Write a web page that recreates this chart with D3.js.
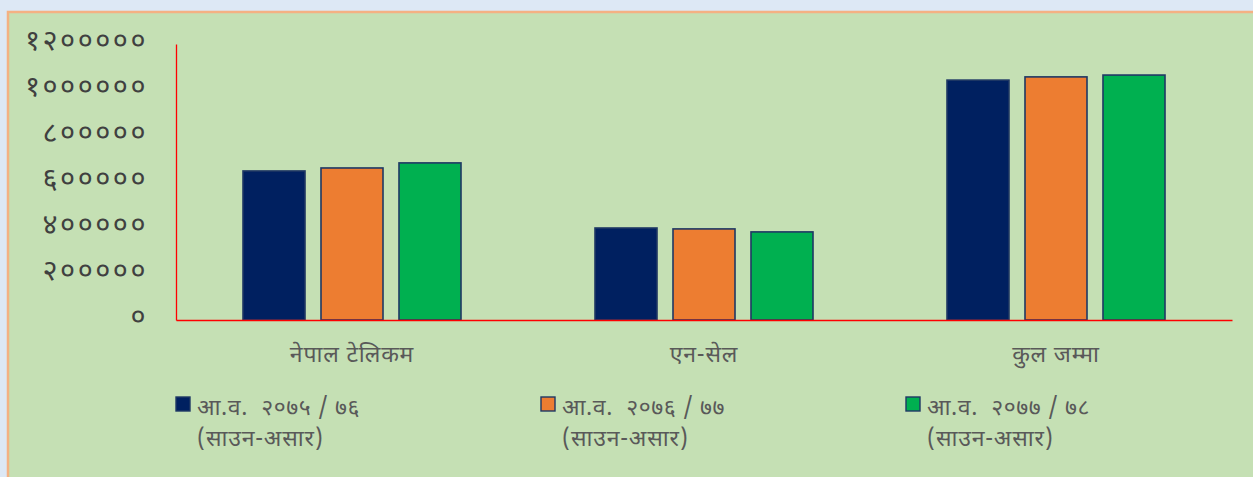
<!DOCTYPE html>
<html>
<head>
<meta charset="utf-8">
<script src="https://cdn.jsdelivr.net/npm/d3@7"></script>
<style>
  html, body { margin: 0; padding: 0; background: #dde8f5; }
  svg { display: block; }
  text { white-space: pre; }
</style>
</head>
<body>
<script>
// Chart data
var categories = ["नेपाल टेलिकम", "एन-सेल", "कुल जम्मा"];
var seriesNames = ["आ.व.  २०७५ / ७६", "आ.व.  २०७६ / ७७", "आ.व.  २०७७ / ७८"];
var seriesSub = ["(साउन-असार)", "(साउन-असार)", "(साउन-असार)"];
var series1 = [648000, 400000, 1043000];
var series2 = [661000, 396000, 1057000];
var series3 = [683000, 383000, 1065000];
var yTicks = [0, 200000, 400000, 600000, 800000, 1000000, 1200000];
var colors = ["#002060", "#ED7D31", "#00B050"];

(function() {

var W = 1253, H = 477;
var font = '"Noto Sans Devanagari", "Noto Sans", "DejaVu Sans", sans-serif';
var devDigits = "०१२३४५६७८९";
function toDev(n) {
  return String(n).replace(/[0-9]/g, function(c) { return devDigits[+c]; });
}

var svg = d3.select("body").append("svg")
  .attr("width", W)
  .attr("height", H);

// green panel with orange border
svg.append("rect")
  .attr("x", 8).attr("y", 12)
  .attr("width", W + 20).attr("height", H + 20)
  .attr("fill", "#c5e0b4")
  .attr("stroke", "#f4b183")
  .attr("stroke-width", 2.5);

var mLeft = 176, mRight = 1232, mTop = 44, mBottom = 320;
var groupW = 218;

var x = d3.scaleBand()
  .domain(categories)
  .range([mLeft, mRight]);

var x1 = d3.scaleBand()
  .domain(d3.range(3))
  .range([0, groupW])
  .paddingInner(0.205)
  .paddingOuter(0);

var y = d3.scaleLinear()
  .domain([0, 1200000])
  .range([mBottom, mTop]);

var allSeries = [series1, series2, series3];

// bars
var groups = svg.append("g").selectAll("g")
  .data(categories)
  .join("g")
  .attr("transform", function(d) { return "translate(" + (x(d) + x.bandwidth() / 2 - groupW / 2) + ",0)"; });

groups.selectAll("rect")
  .data(function(d, i) { return allSeries.map(function(s, j) { return {s: j, v: s[i]}; }); })
  .join("rect")
  .attr("x", function(d) { return x1(d.s); })
  .attr("y", function(d) { return y(d.v); })
  .attr("width", x1.bandwidth())
  .attr("height", function(d) { return mBottom - y(d.v); })
  .attr("fill", function(d) { return colors[d.s]; })
  .attr("stroke", "#1f3864")
  .attr("stroke-width", 1.6);

// y axis
var yAxis = svg.append("g")
  .attr("transform", "translate(" + mLeft + ",0)")
  .call(d3.axisLeft(y).tickValues(yTicks).tickSize(0).tickPadding(28).tickFormat(toDev));
yAxis.select(".domain").attr("stroke", "#ff0000").attr("stroke-width", 1.3);
yAxis.selectAll("text")
  .attr("font-family", font)
  .attr("font-size", 29)
  .attr("letter-spacing", 2.5)
  .attr("fill", "#404040")
  .attr("dy", "0.2em");

// x axis
var xAxis = svg.append("g")
  .attr("transform", "translate(0," + mBottom + ")")
  .call(d3.axisBottom(x).tickSize(0).tickPadding(26));
xAxis.select(".domain").attr("stroke", "#ff0000").attr("stroke-width", 1.3);
xAxis.selectAll("text")
  .attr("font-family", font)
  .attr("font-size", 23)
  .attr("letter-spacing", 0.8)
  .attr("fill", "#595959");

// legend
var legend = svg.append("g").selectAll("g")
  .data(seriesNames)
  .join("g")
  .attr("transform", function(d, i) { return "translate(" + (176 + i * 365) + ",397)"; });

legend.append("rect")
  .attr("width", 14).attr("height", 14)
  .attr("fill", function(d, i) { return colors[i]; })
  .attr("stroke", "#1f3864")
  .attr("stroke-width", 1.4);

legend.append("text")
  .attr("x", 21).attr("y", 18)
  .attr("font-family", font)
  .attr("font-size", 23)
  .attr("letter-spacing", 0.6)
  .attr("fill", "#595959")
  .text(function(d) { return d; });

legend.append("text")
  .attr("x", 21).attr("y", 49)
  .attr("font-family", font)
  .attr("font-size", 23)
  .attr("letter-spacing", 0.8)
  .attr("fill", "#595959")
  .text(function(d, i) { return seriesSub[i]; });

})();
</script>
</body>
</html>
